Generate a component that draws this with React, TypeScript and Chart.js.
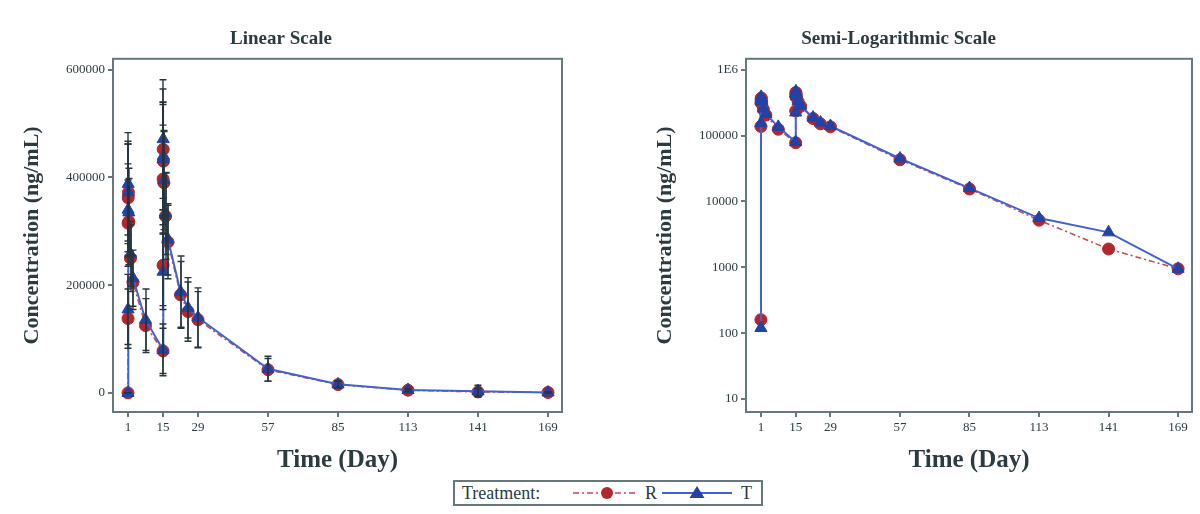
import React, { useEffect, useRef } from "react";
import { Chart, registerables } from "chart.js";
Chart.register(...registerables);

// ---- data ----
const timeDays = [1, 1.02, 1.04, 1.08, 1.17, 1.33, 2, 3, 8, 15, 15.02, 15.04, 15.08, 15.17, 15.33, 16, 17, 22, 25, 29, 57, 85, 113, 141, 169];
const meanR = [160, 138000, 315000, 362000, 372000, 318000, 250000, 205000, 125000, 78000, 237000, 397000, 452000, 430000, 390000, 328000, 280000, 182000, 151000, 136000, 43000, 15500, 5200, 1900, 950];
const sdR = [60, 55000, 80000, 100000, 95000, 80000, 62000, 50000, 50000, 42000, 75000, 100000, 112000, 105000, 95000, 80000, 68000, 62000, 55000, 52000, 21000, 6000, 2500, 7000, 900];
const meanT = [120, 155000, 340000, 388000, 372000, 335000, 258000, 213000, 136000, 80000, 225000, 434000, 471000, 440000, 395000, 333000, 285000, 188000, 158000, 140000, 45000, 16000, 5600, 3400, 950];
const sdT = [50, 65000, 85000, 95000, 90000, 82000, 60000, 52000, 57000, 48000, 70000, 105000, 110000, 100000, 92000, 76000, 66000, 66000, 56000, 55000, 23000, 6500, 3000, 11000, 1000];
const xTickDays = [1, 15, 29, 57, 85, 113, 141, 169];
const linearTicks = [0, 200000, 400000, 600000];
const logTicks = [10, 100, 1000, 10000, 100000, 1000000];

const FONT = '"Liberation Serif", "DejaVu Serif", serif';
const FRAME = "#66777d";
const TEXT = "#2c3b40";
const RED = "#b3262b";
const BLUE_LINE = "#4263cf";
const BLUE_MARK = "#2242a6";

Chart.defaults.font.family = FONT;
Chart.defaults.color = TEXT;

const framePlugin = {
  id: "frame",
  afterDraw(chart: any) {
    const { ctx, chartArea: a } = chart;
    ctx.save();
    ctx.strokeStyle = FRAME;
    ctx.lineWidth = 2;
    ctx.strokeRect(a.left, a.top, a.right - a.left, a.bottom - a.top);
    ctx.restore();
  },
};

const errorBarPlugin = {
  id: "errbars",
  afterDatasetsDraw(chart: any) {
    const opts = chart.options.plugins.errbars;
    if (!opts || !opts.show) return;
    const { ctx, chartArea: a } = chart;
    const xs = chart.scales.x;
    const ys = chart.scales.y;
    ctx.save();
    ctx.beginPath();
    ctx.rect(a.left, a.top, a.right - a.left, a.bottom - a.top);
    ctx.clip();
    ctx.strokeStyle = "#27363b";
    ctx.lineWidth = 1.4;
    const sets = [
      { m: meanR, s: sdR },
      { m: meanT, s: sdT },
    ];
    sets.forEach(({ m, s }) => {
      m.forEach((v, i) => {
        const x = Math.round(xs.getPixelForValue(timeDays[i]));
        const y1 = ys.getPixelForValue(v + s[i]);
        const y2 = ys.getPixelForValue(v - s[i]);
        ctx.beginPath();
        ctx.moveTo(x, y1);
        ctx.lineTo(x, y2);
        ctx.moveTo(x - 3.5, y1);
        ctx.lineTo(x + 3.5, y1);
        ctx.moveTo(x - 3.5, y2);
        ctx.lineTo(x + 3.5, y2);
        ctx.stroke();
      });
    });
    ctx.restore();
  },
};

function makeConfig(kind: "linear" | "log"): any {
  const isLog = kind === "log";
  const ptsR = timeDays.map((t, i) => ({ x: t, y: meanR[i] }));
  const ptsT = timeDays.map((t, i) => ({ x: t, y: meanT[i] }));
  return {
    type: "line",
    data: {
      datasets: [
        {
          label: "T",
          data: ptsT,
          order: 0,
          borderColor: BLUE_LINE,
          borderWidth: 2,
          pointStyle: "triangle",
          pointRadius: 7,
          pointBackgroundColor: BLUE_MARK,
          pointBorderColor: BLUE_MARK,
          pointBorderWidth: 1,
          tension: 0,
        },
        {
          label: "R",
          data: ptsR,
          order: 1,
          borderColor: "#c8474a",
          borderWidth: 1.5,
          borderDash: [6, 3, 2, 3],
          pointStyle: "circle",
          pointRadius: 6,
          pointBackgroundColor: RED,
          pointBorderColor: RED,
          pointBorderWidth: 1,
          tension: 0,
        },
      ],
    },
    options: {
      animation: false,
      responsive: false,
      devicePixelRatio: 1,
      layout: { padding: { left: 0, right: isLog ? 3 : 38, top: 0, bottom: 0 } },
      plugins: {
        legend: { display: false },
        tooltip: { enabled: false },
        title: {
          display: true,
          text: isLog ? "Semi-Logarithmic Scale" : "Linear Scale",
          color: TEXT,
          font: { family: FONT, size: 19, weight: "bold" },
          padding: { top: 8, bottom: 8 },
        },
        errbars: { show: !isLog },
      },
      scales: {
        x: {
          type: "linear",
          min: -5,
          max: 174.6,
          afterBuildTicks: (s: any) => {
            s.ticks = xTickDays.map((v) => ({ value: v }));
          },
          afterFit: (s: any) => {
            s.height = 68;
          },
          ticks: {
            autoSkip: false,
            maxRotation: 0,
            padding: 3,
            color: TEXT,
            font: { family: FONT, size: 13 },
            callback: (v: any) => String(v),
          },
          grid: { drawOnChartArea: false, drawTicks: true, tickLength: 5, color: FRAME, lineWidth: 2 },
          border: { display: true, color: FRAME, width: 2 },
          title: {
            display: true,
            text: "Time (Day)",
            color: TEXT,
            font: { family: FONT, size: 25, weight: "bold" },
            padding: { top: 0, bottom: 4 },
          },
        },
        y: {
          type: isLog ? "logarithmic" : "linear",
          min: isLog ? 6.35 : -35300,
          max: isLog ? 1470000 : 620000,
          afterBuildTicks: (s: any) => {
            s.ticks = (isLog ? logTicks : linearTicks).map((v) => ({ value: v }));
          },
          afterFit: (s: any) => {
            s.width = isLog ? 146 : 113;
          },
          ticks: {
            autoSkip: false,
            padding: 3,
            color: TEXT,
            font: { family: FONT, size: 13 },
            callback: (v: any) => (v === 1000000 && isLog ? "1E6" : String(v)),
          },
          grid: { drawOnChartArea: false, drawTicks: true, tickLength: 5, color: FRAME, lineWidth: 2 },
          border: { display: true, color: FRAME, width: 2 },
          title: {
            display: true,
            text: "Concentration (ng/mL)",
            color: TEXT,
            font: { family: FONT, size: 22, weight: "bold" },
            padding: { top: isLog ? 52 : 19, bottom: 0 },
          },
        },
      },
    },
    plugins: [framePlugin, errorBarPlugin],
  };
}

function PKChart({ kind, left }: { kind: "linear" | "log"; left: number }) {
  const ref = useRef<HTMLCanvasElement | null>(null);
  useEffect(() => {
    if (!ref.current) return;
    const chart = new Chart(ref.current, makeConfig(kind));
    return () => chart.destroy();
  }, [kind]);
  return (
    <canvas
      ref={ref}
      width={600}
      height={460}
      style={{ position: "absolute", left, top: 20, width: 600, height: 460 }}
    />
  );
}

function Legend() {
  const textStyle: React.CSSProperties = {
    position: "absolute",
    fontFamily: FONT,
    fontSize: 18,
    color: TEXT,
    lineHeight: "24px",
    top: 481,
  };
  return (
    <>
      <div
        style={{
          position: "absolute",
          left: 453,
          top: 480,
          width: 310,
          height: 26,
          border: `2px solid ${FRAME}`,
          boxSizing: "border-box",
        }}
      />
      <span style={{ ...textStyle, left: 462 }}>Treatment:</span>
      <svg style={{ position: "absolute", left: 560, top: 480 }} width={190} height={26}>
        <line x1={13} y1={13} x2={75} y2={13} stroke="#c8474a" strokeWidth={1.5} strokeDasharray="6 3 2 3" />
        <circle cx={47} cy={13} r={6} fill={RED} />
        <line x1={102} y1={13} x2={172} y2={13} stroke={BLUE_LINE} strokeWidth={2} />
        <polygon points="137,6 144.5,18 129.5,18" fill={BLUE_MARK} />
      </svg>
      <span style={{ ...textStyle, left: 645 }}>R</span>
      <span style={{ ...textStyle, left: 741 }}>T</span>
    </>
  );
}

export default function App() {
  return (
    <div style={{ position: "absolute", left: 0, top: 0, width: 1200, height: 514, background: "#fff", overflow: "hidden" }}>
      <PKChart kind="linear" left={0} />
      <PKChart kind="log" left={600} />
      <Legend />
    </div>
  );
}
